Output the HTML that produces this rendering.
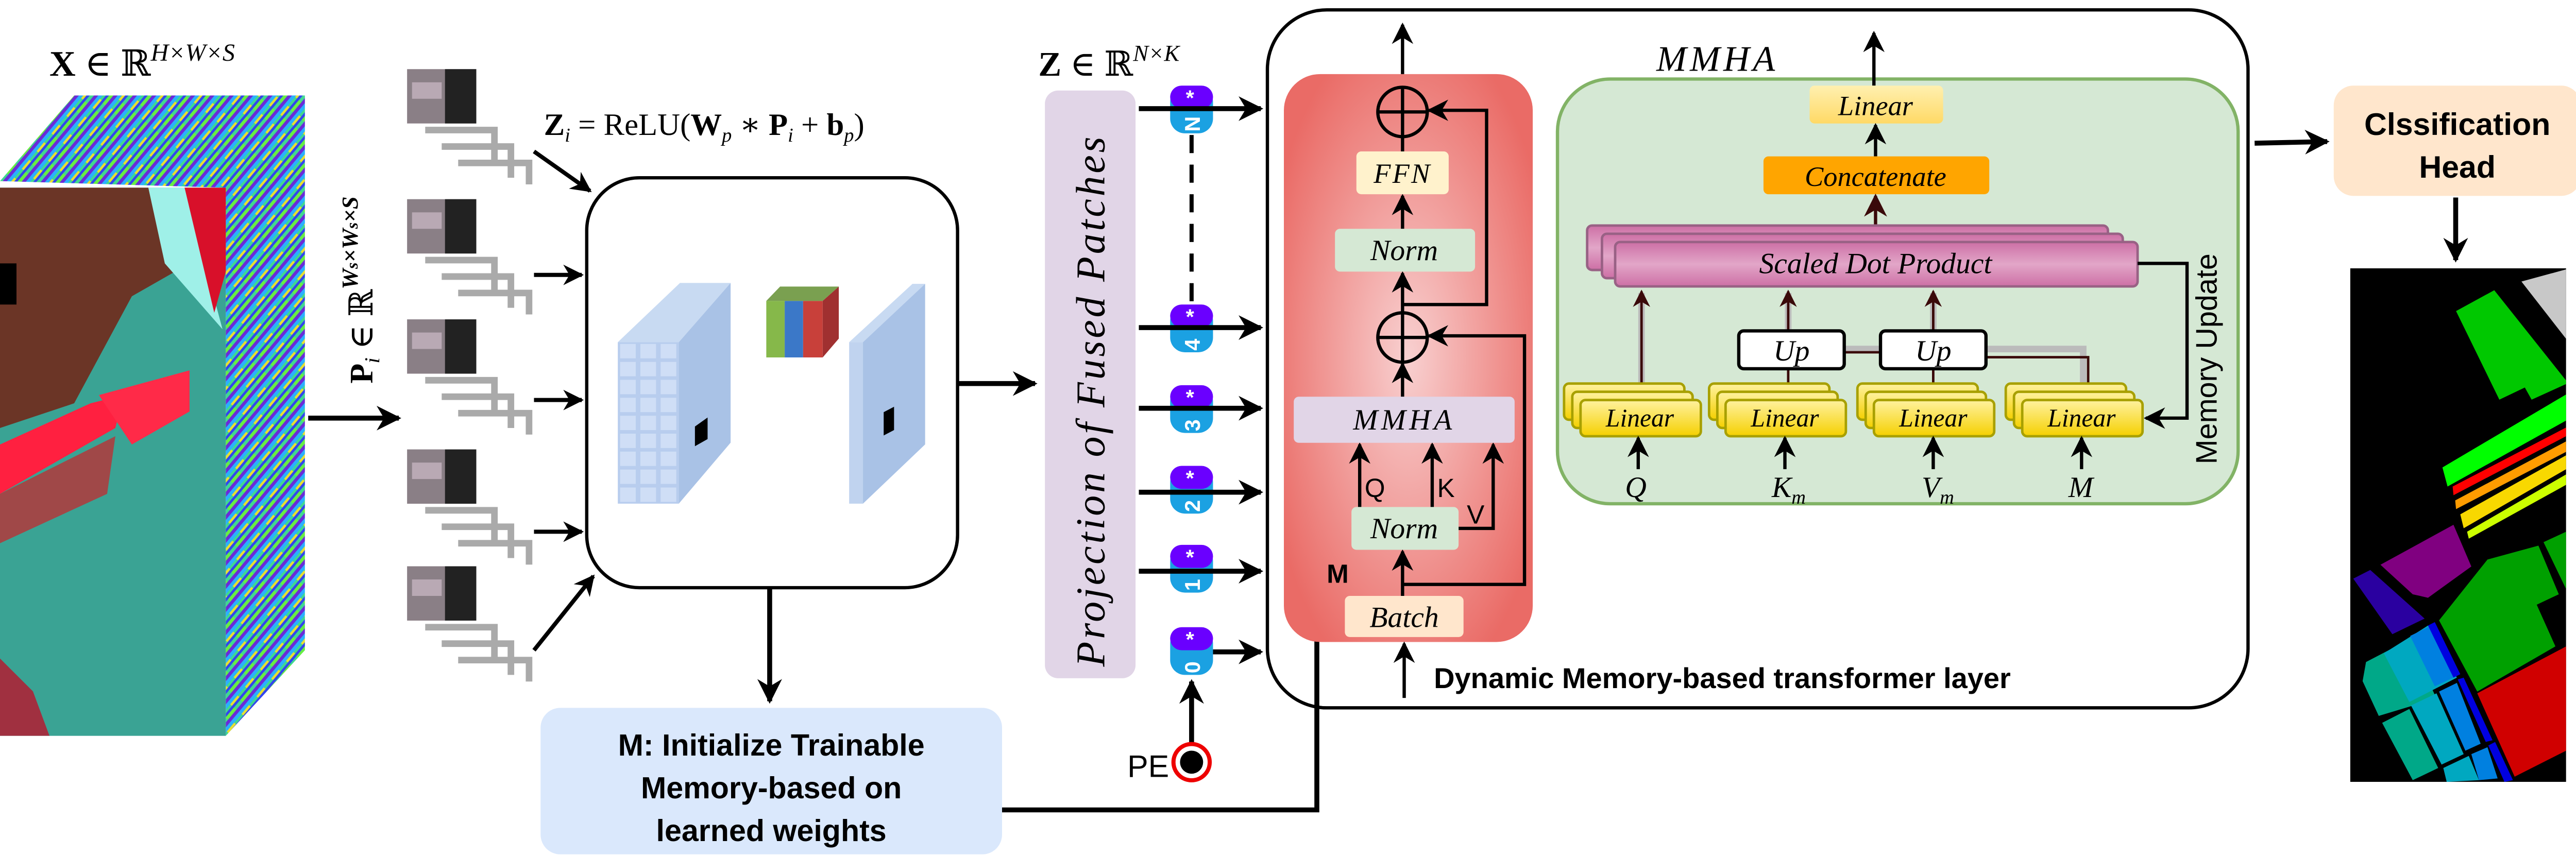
<!DOCTYPE html>
<html><head><meta charset="utf-8"><style>
html,body{margin:0;padding:0;background:#fff;}
svg{display:block}
.m{font-family:"Liberation Serif","DejaVu Serif",serif;font-style:italic}
.b{font-family:"Liberation Sans",sans-serif;font-weight:bold}
</style></head><body>
<svg width="5016" height="1662" viewBox="0 0 1568 520" preserveAspectRatio="none" xmlns="http://www.w3.org/2000/svg">
<defs>
<marker id="ah" viewBox="0 0 10 10" refX="9" refY="5" markerWidth="5" markerHeight="5" orient="auto-start-reverse" markerUnits="strokeWidth"><path d="M0,0 L10,5 L0,10 L3,5 z" fill="#000"/></marker>
<marker id="ah2" viewBox="0 0 10 10" refX="9" refY="5" markerWidth="6.5" markerHeight="6.5" orient="auto" markerUnits="strokeWidth"><path d="M0,0 L10,5 L0,10 L3,5 z" fill="#000"/></marker>
<marker id="ahd" viewBox="0 0 10 10" refX="9" refY="5" markerWidth="7" markerHeight="7" orient="auto" markerUnits="strokeWidth"><path d="M0,0 L10,5 L0,10 L3,5 z" fill="#3a0a0a"/></marker>
<radialGradient id="red" cx="50%" cy="50%" r="60%"><stop offset="0" stop-color="#f8d0d0"/><stop offset="1" stop-color="#ea6b66"/></radialGradient>
<linearGradient id="pink" x1="0" y1="0" x2="0" y2="1"><stop offset="0" stop-color="#cd6fa5"/><stop offset="0.5" stop-color="#e2a6c8"/><stop offset="1" stop-color="#cd6fa5"/></linearGradient>
<linearGradient id="yel" x1="0" y1="0" x2="0" y2="1"><stop offset="0" stop-color="#fff2a0"/><stop offset="1" stop-color="#f5d000"/></linearGradient>
<linearGradient id="yel2" x1="0" y1="0" x2="0" y2="1"><stop offset="0" stop-color="#fff0b0"/><stop offset="1" stop-color="#ffd966"/></linearGradient>
<pattern id="rain" width="14" height="9" patternUnits="userSpaceOnUse" patternTransform="rotate(-50)">
<rect width="14" height="9" fill="#40d890"/><rect y="0" width="14" height="2" fill="#6a2bd8"/><rect y="2" width="14" height="2" fill="#2ab0ff"/><rect y="4" width="7" height="1.5" fill="#e8e030"/><rect y="5.5" width="14" height="1.5" fill="#3344ee"/><rect x="6" y="7" width="8" height="2" fill="#66ee44"/>
</pattern>
</defs>

<!-- cube -->
<polygon points="0,110 45,58 185,58 137,114" fill="url(#rain)"/>
<polygon points="137,114 185,58 185,395 137,447" fill="url(#rain)"/>
<rect x="0" y="114" width="137" height="333" fill="#3aa394"/>
<polygon points="0,114 90,114 115,160 80,180 45,245 0,260" fill="#6b3526"/>
<polygon points="90,114 112,114 135,200 100,160" fill="#9ff0e8"/>
<polygon points="112,114 137,114 137,165 130,190" fill="#d8102a"/>
<polygon points="0,270 55,245 75,240 70,260 0,300" fill="#ff2040"/>
<polygon points="60,240 115,225 115,250 80,270" fill="#ff2a48"/>
<polygon points="0,300 70,265 65,300 0,330" fill="#a04848"/>
<polygon points="0,400 20,420 30,447 0,447" fill="#a03040"/>
<rect x="0" y="160" width="10" height="25" fill="#000"/>
<text x="30" y="46" font-family="Liberation Serif,DejaVu Serif,serif" font-size="22"><tspan font-weight="bold">X</tspan> ∈ ℝ<tspan font-size="15" dy="-9" font-style="italic">H×W×S</tspan></text>
<line x1="187" y1="254" x2="242" y2="254" stroke="#000" stroke-width="3" marker-end="url(#ah)"/>
<text transform="translate(226,233) rotate(-90)" font-family="Liberation Serif,DejaVu Serif,serif" font-size="20"><tspan font-weight="bold">P</tspan><tspan font-style="italic" font-size="13" dy="4">i</tspan><tspan dy="-4"> ∈ ℝ</tspan><tspan font-size="14" dy="-9" font-weight="bold" font-style="italic">W<tspan font-size="10">s</tspan>×W<tspan font-size="10">s</tspan>×S</tspan></text>

<!-- patches -->
<g id="pt">
<path d="M258,79 H300 V99 M268,89 H310 V108 M278,99 H321 V112" fill="none" stroke="#aaa" stroke-width="4"/>
<rect x="247" y="42" width="42" height="33" fill="#8a7f86"/>
<rect x="270" y="42" width="19" height="33" fill="#222"/>
<rect x="250" y="50" width="18" height="10" fill="#b9a9b4"/>
</g>
<use href="#pt" y="79"/><use href="#pt" y="152"/><use href="#pt" y="231"/><use href="#pt" y="302"/>
<line x1="324" y1="92" x2="358" y2="116" stroke="#000" stroke-width="2.5" marker-end="url(#ah)"/>
<line x1="324" y1="167" x2="353" y2="167" stroke="#000" stroke-width="2.5" marker-end="url(#ah)"/>
<line x1="324" y1="243" x2="353" y2="243" stroke="#000" stroke-width="2.5" marker-end="url(#ah)"/>
<line x1="324" y1="323" x2="353" y2="323" stroke="#000" stroke-width="2.5" marker-end="url(#ah)"/>
<line x1="324" y1="395" x2="360" y2="350" stroke="#000" stroke-width="2.5" marker-end="url(#ah)"/>
<text x="330" y="82" font-family="Liberation Serif,DejaVu Serif,serif" font-size="19"><tspan font-weight="bold">Z</tspan><tspan font-style="italic" font-size="12" dy="4">i</tspan><tspan dy="-4"> = ReLU(</tspan><tspan font-weight="bold">W</tspan><tspan font-style="italic" font-size="12" dy="4">p</tspan><tspan dy="-4"> ∗ </tspan><tspan font-weight="bold">P</tspan><tspan font-style="italic" font-size="12" dy="4">i</tspan><tspan dy="-4"> + </tspan><tspan font-weight="bold">b</tspan><tspan font-style="italic" font-size="12" dy="4">p</tspan><tspan dy="-4">)</tspan></text>

<rect x="356" y="108" width="225" height="249" rx="32" fill="#fff" stroke="#000" stroke-width="2"/>
<svg x="359.5" y="149" width="219" height="163.5" viewBox="0 0 1568 1500" preserveAspectRatio="none">
<defs><pattern id="cell" width="88" height="100" patternUnits="userSpaceOnUse" x="110" y="540"><rect width="88" height="100" fill="#b8cdee"/><rect x="10" y="10" width="68" height="80" fill="#cfdef6"/></pattern></defs>
<polygon points="110,540 380,210 600,210 375,540" fill="#c8daf2"/>
<polygon points="375,540 600,210 600,1100 375,1440" fill="#a9c2e6"/>
<rect x="110" y="540" width="265" height="900" fill="url(#cell)"/>
<polygon points="445,1010 500,960 500,1080 445,1120" fill="#000"/>
<polygon points="1115,540 1175,540 1445,215 1390,215" fill="#c8daf2"/>
<polygon points="1175,540 1445,215 1445,1110 1175,1440" fill="#a9c2e6"/>
<rect x="1115" y="540" width="60" height="900" fill="#c0d3ef"/>
<polygon points="1265,930 1310,900 1310,1030 1265,1060" fill="#000"/>
<rect x="755" y="310" width="80" height="315" fill="#86b84a"/>
<rect x="835" y="310" width="80" height="315" fill="#3b78c8"/>
<rect x="915" y="310" width="85" height="315" fill="#c8403a"/>
<polygon points="755,310 815,230 1070,230 1000,310" fill="#7aa050"/>
<polygon points="1000,310 1070,230 1070,520 1000,625" fill="#a03030"/>
</svg>
<line x1="581" y1="233" x2="628" y2="233" stroke="#000" stroke-width="3" marker-end="url(#ah)"/>
<line x1="467" y1="357" x2="467" y2="426" stroke="#000" stroke-width="3" marker-end="url(#ah)"/>

<!-- M box -->
<rect x="328" y="430" width="280" height="89" rx="12" fill="#dae8fc"/>
<text x="468" y="459" class="b" font-size="18.5" text-anchor="middle">M: Initialize Trainable</text>
<text x="468" y="485" class="b" font-size="18.5" text-anchor="middle">Memory-based on</text>
<text x="468" y="511" class="b" font-size="18.5" text-anchor="middle">learned weights</text>
<polyline points="608,492 799,492 799,272" fill="none" stroke="#000" stroke-width="3" marker-end="url(#ah)"/>

<!-- projection -->
<text x="630" y="46" font-family="Liberation Serif,DejaVu Serif,serif" font-size="21"><tspan font-weight="bold">Z</tspan> ∈ ℝ<tspan font-size="14" font-style="italic" dy="-9">N×K</tspan></text>
<rect x="634" y="55" width="55" height="357" rx="8" fill="#e1d5e7"/>
<text transform="translate(670,405) rotate(-90)" font-family="Liberation Serif,DejaVu Serif,serif" font-style="italic" font-size="25" letter-spacing="1.5">Projection of Fused Patches</text>
<line x1="723" y1="82" x2="723" y2="186" stroke="#000" stroke-width="2.5" stroke-dasharray="11,7"/>
<g id="tk"><rect x="710" y="53" width="26" height="28" rx="9" fill="#1ba1e2"/><rect x="710" y="52" width="26" height="14" rx="7" fill="#6a00ff"/></g>
<use href="#tk" y="133"/><use href="#tk" y="182"/><use href="#tk" y="231"/><use href="#tk" y="279"/><use href="#tk" y="329"/>
<g font-family="Liberation Sans,sans-serif" font-size="13" fill="#fff" font-weight="bold">
<text x="722" y="64" text-anchor="middle">*</text><text x="722" y="197" text-anchor="middle">*</text><text x="722" y="246" text-anchor="middle">*</text><text x="722" y="295" text-anchor="middle">*</text><text x="722" y="343" text-anchor="middle">*</text><text x="722" y="393" text-anchor="middle">*</text>
<text transform="translate(728,80) rotate(-90)">N</text>
<text transform="translate(728,213) rotate(-90)">4</text>
<text transform="translate(728,262) rotate(-90)">3</text>
<text transform="translate(728,311) rotate(-90)">2</text>
<text transform="translate(728,359) rotate(-90)">1</text>
<text transform="translate(728,409) rotate(-90)">0</text>
</g>
<g stroke="#000" stroke-width="3" marker-end="url(#ah)">
<line x1="691" y1="66" x2="765" y2="66"/><line x1="691" y1="199" x2="765" y2="199"/><line x1="691" y1="248" x2="765" y2="248"/><line x1="691" y1="299" x2="765" y2="299"/><line x1="691" y1="347" x2="765" y2="347"/><line x1="736" y1="396" x2="765" y2="396"/>
</g>
<line x1="723" y1="452" x2="723" y2="414" stroke="#000" stroke-width="3" marker-end="url(#ah)"/>
<circle cx="723" cy="463" r="11" fill="#fff" stroke="#e00" stroke-width="2.5"/>
<circle cx="723" cy="463" r="7" fill="#000"/>
<text x="684" y="472" font-family="Liberation Sans,sans-serif" font-size="19">PE</text>

<!-- transformer -->
<rect x="769" y="6" width="595" height="424" rx="36" fill="none" stroke="#000" stroke-width="2"/>
<rect x="779" y="45" width="151" height="345" rx="22" fill="url(#red)"/>
<g stroke="#000" stroke-width="2" fill="none">
<line x1="851" y1="45" x2="851" y2="15" marker-end="url(#ah2)"/>
<circle cx="851" cy="68" r="15"/><line x1="836" y1="68" x2="866" y2="68"/><line x1="851" y1="53" x2="851" y2="83"/>
<line x1="851" y1="92" x2="851" y2="83"/>
<line x1="851" y1="139" x2="851" y2="119" marker-end="url(#ah2)"/>
<line x1="851" y1="190" x2="851" y2="166" marker-end="url(#ah2)"/>
<polyline points="851,185 902,185 902,67 867,67" marker-end="url(#ah2)"/>
<circle cx="851" cy="205" r="15"/><line x1="836" y1="205" x2="866" y2="205"/><line x1="851" y1="190" x2="851" y2="220"/>
<line x1="851" y1="241" x2="851" y2="221" marker-end="url(#ah2)"/>
<polyline points="851,355 925,355 925,204 867,204" marker-end="url(#ah2)"/>
<line x1="851" y1="362" x2="851" y2="335" marker-end="url(#ah2)"/>
<line x1="825" y1="308" x2="825" y2="270" marker-end="url(#ah2)"/>
<line x1="869" y1="308" x2="869" y2="270" marker-end="url(#ah2)"/>
<polyline points="885,321 906,321 906,270" marker-end="url(#ah2)"/>
<line x1="852" y1="424" x2="852" y2="391" marker-end="url(#ah2)"/>
</g>
<rect x="823" y="92" width="56" height="26" rx="3" fill="#fff2cc"/>
<text x="851" y="111" class="m" font-size="17" text-anchor="middle" letter-spacing="1">FFN</text>
<rect x="810" y="139" width="85" height="26" rx="3" fill="#d5e8d4"/>
<text x="852" y="158" class="m" font-size="18" text-anchor="middle">Norm</text>
<rect x="785" y="241" width="134" height="28" rx="3" fill="#e1d5e7"/>
<text x="852" y="261" class="m" font-size="18" text-anchor="middle" letter-spacing="2">MMHA</text>
<rect x="820" y="308" width="65" height="26" rx="3" fill="#d5e8d4"/>
<text x="852" y="327" class="m" font-size="18" text-anchor="middle">Norm</text>
<rect x="816" y="362" width="72" height="25" rx="3" fill="#ffe6cc"/>
<text x="852" y="381" class="m" font-size="18" text-anchor="middle">Batch</text>
<g font-family="Liberation Sans,sans-serif" font-size="16">
<text x="828" y="302">Q</text><text x="872" y="302">K</text><text x="890" y="318">V</text>
</g>
<text x="805" y="354" class="b" font-size="16">M</text>
<text x="870" y="418" class="b" font-size="17.5">Dynamic Memory-based transformer layer</text>

<!-- MMHA green -->
<text x="1005" y="43" class="m" font-size="22" letter-spacing="2">MMHA</text>
<rect x="945" y="48" width="413" height="258" rx="32" fill="#d5e8d4" stroke="#82b366" stroke-width="2"/>
<line x1="1137" y1="52" x2="1137" y2="20" stroke="#000" stroke-width="2" marker-end="url(#ah2)"/>
<rect x="1098" y="52" width="81" height="23" rx="3" fill="url(#yel2)"/>
<text x="1138" y="70" class="m" font-size="17" text-anchor="middle">Linear</text>
<line x1="1138" y1="95" x2="1138" y2="76" stroke="#000" stroke-width="2" marker-end="url(#ah2)"/>
<rect x="1070" y="95" width="137" height="23" rx="3" fill="#ffa500"/>
<text x="1138" y="113" class="m" font-size="17" text-anchor="middle">Concatenate</text>
<line x1="1138" y1="137" x2="1138" y2="119" stroke="#3a0a0a" stroke-width="2" marker-end="url(#ahd)"/>
<g stroke="#996185" stroke-width="1.5">
<rect x="963" y="137" width="316" height="27" rx="3" fill="url(#pink)"/>
<rect x="972" y="142" width="316" height="27" rx="3" fill="url(#pink)"/>
<rect x="980" y="147" width="317" height="27" rx="3" fill="url(#pink)"/>
</g>
<text x="1138" y="166" class="m" font-size="18" text-anchor="middle">Scaled Dot Product</text>
<polyline points="1297,160 1327,160 1327,254 1302,254" fill="none" stroke="#000" stroke-width="2" marker-end="url(#ah2)"/>
<text transform="translate(1345,282) rotate(-90)" font-family="Liberation Sans,sans-serif" font-size="18">Memory Update</text>
<g stroke="#bbb" stroke-width="4" fill="none">
<line x1="996" y1="238" x2="996" y2="178"/><line x1="1085" y1="200" x2="1085" y2="178"/><line x1="1173" y1="200" x2="1173" y2="178"/>
<polyline points="1119,212 1141,212"/><polyline points="1205,212 1264,212 1264,238"/>
</g>
<g stroke="#3a0a0a" stroke-width="1.5" fill="none">
<line x1="996" y1="238" x2="996" y2="177" marker-end="url(#ahd)"/>
<line x1="1085" y1="201" x2="1085" y2="177" marker-end="url(#ahd)"/>
<line x1="1173" y1="201" x2="1173" y2="177" marker-end="url(#ahd)"/>
<line x1="1085" y1="238" x2="1085" y2="224"/><line x1="1173" y1="238" x2="1173" y2="224"/>
<polyline points="1119,214 1141,214"/><polyline points="1205,217 1267,217 1267,238"/>
</g>
<rect x="1055" y="201" width="64" height="23" rx="3" fill="#fff" stroke="#000" stroke-width="2"/>
<text x="1087" y="219" class="m" font-size="18" text-anchor="middle">Up</text>
<rect x="1141" y="201" width="64" height="23" rx="3" fill="#fff" stroke="#000" stroke-width="2"/>
<text x="1173" y="219" class="m" font-size="18" text-anchor="middle">Up</text>
<g id="ln" stroke="#a8a000" stroke-width="1.5">
<rect x="949" y="233" width="73" height="22" rx="3" fill="url(#yel)"/>
<rect x="954" y="238" width="73" height="22" rx="3" fill="url(#yel)"/>
<rect x="959" y="243" width="73" height="22" rx="3" fill="url(#yel)"/>
</g>
<use href="#ln" x="88"/><use href="#ln" x="178"/><use href="#ln" x="268"/>
<g class="m" font-size="15.5" text-anchor="middle">
<text x="995" y="259">Linear</text><text x="1083" y="259">Linear</text><text x="1173" y="259">Linear</text><text x="1263" y="259">Linear</text>
</g>
<g stroke="#000" stroke-width="2" marker-end="url(#ah2)">
<line x1="994" y1="285" x2="994" y2="266"/><line x1="1083" y1="285" x2="1083" y2="266"/><line x1="1173" y1="285" x2="1173" y2="266"/><line x1="1263" y1="285" x2="1263" y2="266"/>
</g>
<g class="m" font-size="18">
<text x="986" y="302">Q</text><text x="1075" y="302">K<tspan font-size="12" dy="4">m</tspan></text><text x="1166" y="302">V<tspan font-size="12" dy="4">m</tspan></text><text x="1255" y="302">M</text>
</g>

<!-- classification -->
<line x1="1368" y1="87" x2="1412" y2="86" stroke="#000" stroke-width="3" marker-end="url(#ah)"/>
<rect x="1416" y="52" width="150" height="67" rx="12" fill="#ffe6cc"/>
<text x="1491" y="82" class="b" font-size="19" text-anchor="middle">Clssification</text>
<text x="1491" y="108" class="b" font-size="19" text-anchor="middle">Head</text>
<line x1="1490" y1="120" x2="1490" y2="158" stroke="#000" stroke-width="3" marker-end="url(#ah)"/>
<svg x="1426" y="163" width="131" height="312" viewBox="192 62 1271 1478" preserveAspectRatio="none">
<rect x="192" y="62" width="1271" height="1478" fill="#000"/>
<polygon points="1200,100 1463,65 1463,265" fill="#c8c8c8"/>
<polygon points="815,185 1040,125 1463,385 1463,395 1260,440 1220,405 1070,440" fill="#00c800"/>
<polygon points="735,635 1463,425 1463,500 765,690" fill="#00ff00"/>
<polygon points="795,690 1463,520 1463,545 800,715" fill="#ff0000"/>
<polygon points="810,730 1463,560 1463,590 815,755" fill="#ff9c00"/>
<polygon points="840,770 1463,600 1463,640 860,810" fill="#f8d800"/>
<polygon points="880,820 1463,655 1463,685 890,840" fill="#ccff00"/>
<polygon points="370,915 800,800 905,920 650,1010 560,1000" fill="#800080"/>
<polygon points="210,955 310,930 630,1070 440,1115" fill="#2a00a0"/>
<polygon points="715,1075 1000,900 1300,860 1420,1000 1290,1030 1400,1150 940,1280" fill="#00a000"/>
<polygon points="1330,850 1463,820 1463,985" fill="#00a000"/>
<polygon points="940,1285 1463,1150 1463,1450 1160,1525" fill="#d00000"/>
<polygon points="285,1195 540,1130 700,1300 360,1350 265,1250" fill="#00a888"/>
<polygon points="390,1170 650,1090 820,1240 540,1310" fill="#00a8c0"/>
<polygon points="545,1120 690,1085 820,1235 690,1265" fill="#0080e0"/>
<polygon points="650,1090 690,1080 840,1230 800,1240" fill="#0000e0"/>
<polygon points="380,1370 540,1330 710,1500 560,1535" fill="#00a888"/>
<polygon points="550,1320 700,1285 860,1460 730,1490" fill="#00a8c0"/>
<polygon points="715,1280 820,1255 960,1430 870,1450" fill="#0080e0"/>
<polygon points="825,1245 860,1240 1030,1420 990,1425" fill="#0000e0"/>
<polygon points="740,1500 890,1465 950,1535 760,1540" fill="#00a8c0"/>
<polygon points="905,1460 1000,1440 1060,1530 950,1535" fill="#0080e0"/>
<polygon points="1005,1435 1045,1425 1150,1535 1100,1540" fill="#0000e0"/>
</svg>
</svg>
</body></html>
